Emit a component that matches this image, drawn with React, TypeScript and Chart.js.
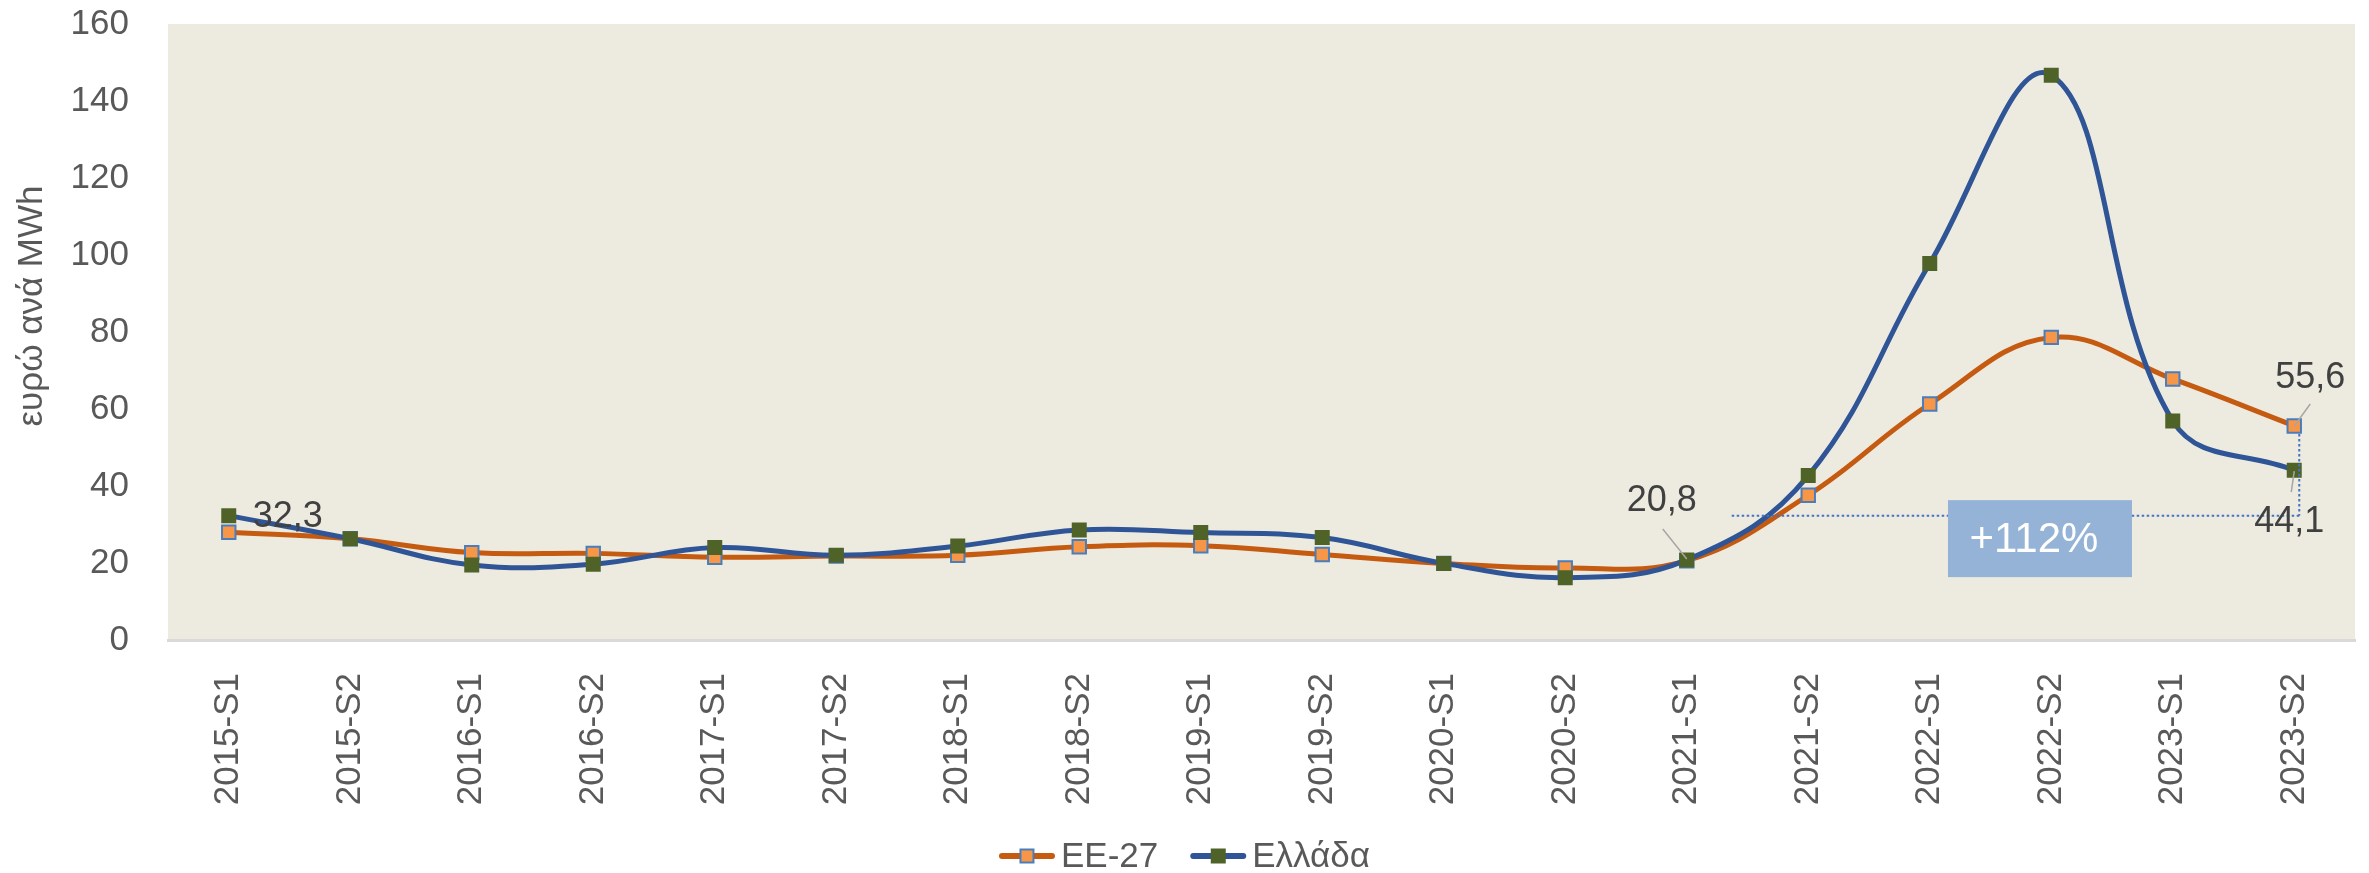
import React, { useEffect, useRef } from 'react';
import { Chart, registerables } from 'chart.js';

Chart.register(...registerables);

// ---- data ----
const periods = [
  '2015-S1', '2015-S2', '2016-S1', '2016-S2', '2017-S1', '2017-S2',
  '2018-S1', '2018-S2', '2019-S1', '2019-S2', '2020-S1', '2020-S2',
  '2021-S1', '2021-S2', '2022-S1', '2022-S2', '2023-S1', '2023-S2',
];
const eu27 = [28.0, 26.3, 22.7, 22.5, 21.5, 21.8, 22.0, 24.2, 24.5, 22.2, 19.9, 18.7, 20.6, 37.6, 61.3, 78.6, 67.8, 55.6];
const greece = [32.3, 26.3, 19.5, 19.7, 24.0, 22.0, 24.4, 28.6, 27.9, 26.6, 19.9, 16.2, 20.8, 42.7, 97.8, 146.7, 56.9, 44.1];
const seriesNames = ['EE-27', 'Ελλάδα'];
const yMin = 0;
const yMax = 160;
const yStep = 20;
const yTitle = 'ευρώ ανά MWh';
const changeLabel = '+112%';

// ---- styles ----
const FONT = "'Liberation Sans', Arial, sans-serif";
const TXT = '#595959';
const LBL = '#404040';
const EU_LINE = '#C55A11';
const EU_FILL = '#F79646';
const EU_EDGE = '#4A7EBB';
const GR_LINE = '#2F5597';
const GR_FILL = '#4F6228';
const PLOT_BG = '#EDEBE0';

const fmt = (v: number) => v.toFixed(1).replace('.', ',');

const bgPlugin = {
  id: 'plotBg',
  beforeDraw(chart: any) {
    const { ctx, chartArea: a } = chart;
    ctx.save();
    ctx.fillStyle = PLOT_BG;
    ctx.fillRect(a.left, a.top, a.right - a.left, a.bottom - a.top);
    ctx.restore();
  },
};

const annotPlugin = {
  id: 'annot',
  afterDatasetsDraw(chart: any) {
    const { ctx } = chart;
    const xs = chart.scales.x;
    const ys = chart.scales.y;
    const px = (i: number) => xs.getPixelForValue(i);
    const step = px(1) - px(0);
    const last = periods.length - 1;
    const baseY = ys.getPixelForValue(greece[0]);
    const endX = px(last) + 5;

    ctx.save();
    // dotted reference lines
    ctx.strokeStyle = '#4472C4';
    ctx.lineWidth = 2;
    ctx.setLineDash([2.5, 2.5]);
    ctx.beginPath();
    ctx.moveTo(px(12) + 0.37 * step, baseY);
    ctx.lineTo(endX, baseY);
    ctx.moveTo(endX, ys.getPixelForValue(eu27[last]) + 8);
    ctx.lineTo(endX, baseY);
    ctx.stroke();
    ctx.setLineDash([]);

    // change box
    const bx = px(14) + 0.15 * step;
    const bw = 184;
    const by = baseY - 15.5;
    const bh = 77;
    ctx.fillStyle = '#95B3D7';
    ctx.fillRect(bx, by, bw, bh);
    ctx.fillStyle = '#FFFFFF';
    ctx.font = `42px ${FONT}`;
    ctx.textAlign = 'center';
    ctx.textBaseline = 'middle';
    ctx.fillText(changeLabel, bx + bw / 2 - 6, by + bh / 2 + 2);

    // data labels
    ctx.fillStyle = LBL;
    ctx.font = `36px ${FONT}`;
    ctx.strokeStyle = '#A6A6A6';
    ctx.lineWidth = 1.5;

    const leader = (x1: number, y1: number, x2: number, y2: number) => {
      ctx.beginPath();
      ctx.moveTo(x1, y1);
      ctx.lineTo(x2, y2);
      ctx.stroke();
    };

    // 2015-S1 Greece
    {
      const x = px(0), y = ys.getPixelForValue(greece[0]);
      ctx.textAlign = 'left';
      ctx.fillText(fmt(greece[0]), x + 24, y + 1);
    }
    // 2021-S1 Greece
    {
      const x = px(12), y = ys.getPixelForValue(greece[12]);
      leader(x - 24, y - 31, x, y - 1);
      ctx.textAlign = 'center';
      ctx.fillText(fmt(greece[12]), x - 25, y - 59);
    }
    // 2023-S2 EU
    {
      const x = px(last), y = ys.getPixelForValue(eu27[last]);
      leader(x + 16, y - 22, x, y);
      ctx.textAlign = 'center';
      ctx.fillText(fmt(eu27[last]), x + 16, y - 48);
    }
    // 2023-S2 Greece
    {
      const x = px(last), y = ys.getPixelForValue(greece[last]);
      leader(x - 3, y + 22, x, y + 1);
      ctx.textAlign = 'center';
      ctx.fillText(fmt(greece[last]), x - 5, y + 52);
    }
    ctx.restore();
  },
  afterDraw(chart: any) {
    const { ctx, width } = chart;
    ctx.save();
    // y axis title
    ctx.translate(32, 306);
    ctx.rotate(-Math.PI / 2);
    ctx.fillStyle = TXT;
    ctx.font = `35px ${FONT}`;
    ctx.textAlign = 'center';
    ctx.textBaseline = 'middle';
    ctx.fillText(yTitle, 0, 0);
    ctx.restore();

    // legend
    ctx.save();
    ctx.font = `35px ${FONT}`;
    ctx.textBaseline = 'middle';
    ctx.textAlign = 'left';
    const lineW = 56;
    const gapText = 6;
    const gapItems = 32;
    const items = [
      { name: seriesNames[0], line: EU_LINE, fill: EU_FILL, edge: EU_EDGE, size: 13 },
      { name: seriesNames[1], line: GR_LINE, fill: GR_FILL, edge: GR_FILL, size: 15 },
    ];
    const widths = items.map((it) => lineW + gapText + ctx.measureText(it.name).width);
    const total = widths.reduce((a, b) => a + b, 0) + gapItems * (items.length - 1);
    let x = (width - total) / 2;
    const cy = 856;
    items.forEach((it, i) => {
      ctx.strokeStyle = it.line;
      ctx.lineWidth = 6;
      ctx.lineCap = 'round';
      ctx.beginPath();
      ctx.moveTo(x + 3, cy);
      ctx.lineTo(x + lineW - 3, cy);
      ctx.stroke();
      const mx = x + lineW / 2;
      ctx.fillStyle = it.fill;
      ctx.fillRect(mx - it.size / 2, cy - it.size / 2, it.size, it.size);
      if (it.edge !== it.fill) {
        ctx.strokeStyle = it.edge;
        ctx.lineWidth = 2;
        ctx.strokeRect(mx - it.size / 2, cy - it.size / 2, it.size, it.size);
      }
      ctx.fillStyle = TXT;
      ctx.fillText(it.name, x + lineW + gapText, cy + 1);
      x += widths[i] + gapItems;
    });
    ctx.restore();
  },
};

export default function App() {
  const ref = useRef<HTMLCanvasElement | null>(null);

  useEffect(() => {
    document.body.style.margin = '0';
    if (!ref.current) return;
    Chart.defaults.font.family = FONT;
    const chart = new Chart(ref.current, {
      type: 'line',
      data: {
        labels: periods,
        datasets: [
          {
            label: seriesNames[0],
            data: eu27,
            order: 1,
            borderColor: EU_LINE,
            borderWidth: 5,
            tension: 0.4,
            pointStyle: 'rect',
            pointRadius: 9.5,
            pointBackgroundColor: EU_FILL,
            pointBorderColor: EU_EDGE,
            pointBorderWidth: 2,
            fill: false,
          },
          {
            label: seriesNames[1],
            data: greece,
            order: 0,
            borderColor: GR_LINE,
            borderWidth: 5,
            tension: 0.4,
            pointStyle: 'rect',
            pointRadius: 10.6,
            pointBackgroundColor: GR_FILL,
            pointBorderColor: GR_FILL,
            pointBorderWidth: 0,
            fill: false,
          },
        ],
      },
      options: {
        responsive: false,
        animation: false,
        devicePixelRatio: 1,
        layout: { padding: { top: 24, right: 14, left: 0, bottom: 0 } },
        plugins: {
          legend: { display: false },
          tooltip: { enabled: false },
        },
        scales: {
          x: {
            offset: true,
            grid: { display: false, drawTicks: true, tickLength: 33 },
            border: { display: true, color: '#D9D9D9', width: 3 },
            ticks: {
              color: TXT,
              font: { size: 35, family: FONT },
              minRotation: 90,
              maxRotation: 90,
              padding: 0,
              autoSkip: false,
            },
            afterFit: (s: any) => {
              s.height = 233;
            },
          },
          y: {
            min: yMin,
            max: yMax,
            grid: { display: false, drawTicks: true, tickLength: 39 },
            border: { display: false },
            ticks: {
              stepSize: yStep,
              color: TXT,
              font: { size: 35, family: FONT },
              padding: 0,
            },
            afterFit: (s: any) => {
              s.width = 168;
            },
          },
        },
      },
      plugins: [bgPlugin, annotPlugin],
    });
    return () => chart.destroy();
  }, []);

  return (
    <div style={{ width: 2369, height: 873 }}>
      <canvas ref={ref} width={2369} height={873} style={{ width: 2369, height: 873, display: 'block' }} />
    </div>
  );
}
